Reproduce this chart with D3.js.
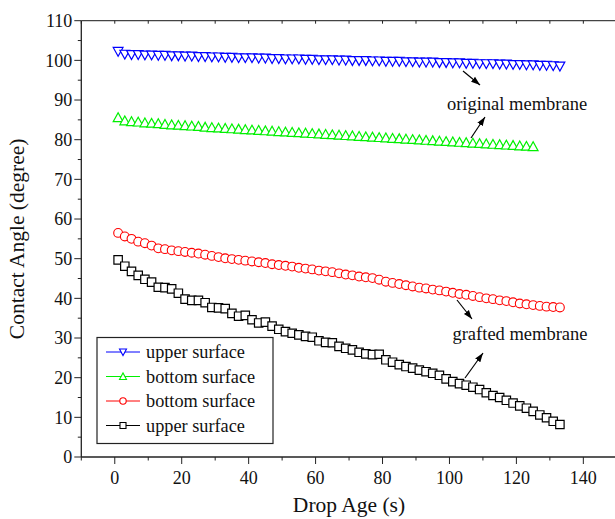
<!DOCTYPE html>
<html><head><meta charset="utf-8">
<script src="https://cdn.jsdelivr.net/npm/d3@7"></script>
<style>body{margin:0;background:#fff}svg{display:block}text{font-family:"Liberation Serif","Times New Roman",serif}</style>
</head><body>
<script>
// ---- data ----
const timeBlue = d3.range(1, 134, 2);
const timeGreen = d3.range(1, 126, 2);
const timeRed = d3.range(1, 134, 2);
const timeBlack = d3.range(1, 134, 2);

const blueUpperOriginal = [103.0,102.3,102.2,102.2,102.1,102.1,102.0,102.0,101.9,101.9,
101.8,101.8,101.7,101.7,101.6,101.6,101.5,101.5,101.4,101.4,
101.4,101.3,101.3,101.2,101.2,101.1,101.1,101.1,101.0,101.0,
100.9,100.9,100.9,100.8,100.8,100.7,100.7,100.7,100.6,100.6,
100.5,100.5,100.5,100.4,100.4,100.3,100.3,100.3,100.2,100.2,
100.1,100.1,100.0,100.0,99.9,99.9,99.9,99.8,99.8,99.7,
99.7,99.6,99.6,99.5,99.5,99.4,99.3];

const greenBottomOriginal = [84.8,84.0,83.8,83.7,83.5,83.4,83.3,83.1,83.0,82.9,
82.8,82.7,82.6,82.4,82.3,82.2,82.1,82.0,81.9,81.8,
81.7,81.6,81.5,81.4,81.3,81.2,81.1,81.0,80.9,80.8,
80.7,80.6,80.5,80.4,80.3,80.2,80.1,80.0,79.9,79.8,
79.7,79.6,79.5,79.4,79.3,79.2,79.1,79.0,78.9,78.8,
78.7,78.6,78.5,78.4,78.3,78.2,78.1,78.0,77.9,77.8,
77.7,77.6,77.5];

const redBottomGrafted = [56.5,55.6,55.0,54.3,53.9,53.3,52.6,52.4,52.1,51.9,
51.7,51.5,51.3,51.0,50.7,50.4,50.1,49.9,49.7,49.5,
49.3,49.1,48.9,48.6,48.4,48.2,48.0,47.7,47.5,47.3,
47.0,46.8,46.6,46.3,46.0,45.8,45.5,45.3,45.1,44.7,
44.2,43.9,43.6,43.3,43.0,42.7,42.5,42.2,42.0,41.7,
41.4,41.1,40.9,40.6,40.3,40.0,39.8,39.5,39.3,39.0,
38.7,38.5,38.3,38.1,37.9,37.8,37.7];

const blackUpperGrafted = [49.7,48.1,46.8,45.8,44.8,44.1,42.8,42.7,42.4,41.3,
39.8,39.5,39.5,38.9,37.7,37.6,37.4,36.2,35.5,35.7,
34.6,33.8,34.0,33.0,32.2,31.6,31.2,30.8,30.4,30.2,
29.3,28.9,28.8,27.9,27.4,27.0,26.4,26.0,25.8,25.9,
24.5,23.9,23.3,22.8,22.4,21.9,21.5,21.1,20.6,19.7,
19.0,18.5,18.1,17.6,17.0,16.2,15.5,15.0,14.3,13.6,
12.9,12.3,11.5,10.6,9.9,9.0,8.2];

const xTicks = [0,20,40,60,80,100,120,140];
const yTicks = [0,10,20,30,40,50,60,70,80,90,100,110];
const legendLabels = ["upper surface","bottom surface","bottom surface","upper surface"];
const annotations = ["original membrane","grafted membrane"];

// ---- layout ----
const W = 615, H = 519;
const svg = d3.select("body").append("svg").attr("width", W).attr("height", H);
const x = d3.scaleLinear().domain([-10, 150]).range([81.3, 616.8]);
const y = d3.scaleLinear().domain([0, 110]).range([457, 20.7]);

const series = [
  {t: timeBlue, v: blueUpperOriginal, color: "#0000ff", shape: "tdown"},
  {t: timeGreen, v: greenBottomOriginal, color: "#00f000", shape: "tup"},
  {t: timeRed, v: redBottomGrafted, color: "#ff0000", shape: "circle"},
  {t: timeBlack, v: blackUpperGrafted, color: "#000000", shape: "square"}
];

function markerPath(shape, s) {
  if (shape === "tdown") { const h = s*0.9; return `M${-s/2},${-1}L${s/2},${-1}L0,${h-1}Z`; }
  if (shape === "tup") { const h = s*0.9; return `M${-s/2},${1}L${s/2},${1}L0,${-h+1}Z`; }
  if (shape === "square") return `M${-s/2},${-s/2}h${s}v${s}h${-s}Z`;
  return null;
}

const FS_TICK = 18, FS_TITLE = 21.5, FS_LEG = 18.3, FS_ANN = 18.5;

// axes
const axisColor = "#222";
const gx = svg.append("g").attr("transform", `translate(0,${y(0)})`);
gx.append("line").attr("x1", x(-10)).attr("x2", W).attr("stroke", axisColor).attr("stroke-width", 1.3);
d3.range(-10, 151, 10).forEach(v => {
  const major = xTicks.includes(v);
  gx.append("line").attr("x1", x(v)).attr("x2", x(v)).attr("y1", 0).attr("y2", major ? 7 : 3.5)
    .attr("stroke", axisColor).attr("stroke-width", 1);
});
xTicks.forEach(v => gx.append("text").attr("x", x(v)).attr("y", 27).attr("text-anchor", "middle")
  .attr("font-size", FS_TICK).attr("fill", "#111").text(v));

const gy = svg.append("g").attr("transform", `translate(${x(-10)},0)`);
gy.append("line").attr("y1", y(0)).attr("y2", y(110)).attr("stroke", axisColor).attr("stroke-width", 1.3);
d3.range(0, 111, 5).forEach(v => {
  const major = yTicks.includes(v);
  gy.append("line").attr("x1", major ? -7 : -3.5).attr("x2", 0).attr("y1", y(v)).attr("y2", y(v))
    .attr("stroke", axisColor).attr("stroke-width", 1);
});
yTicks.forEach(v => gy.append("text").attr("x", -9).attr("y", y(v)).attr("dy", "0.35em").attr("text-anchor", "end")
  .attr("font-size", FS_TICK).attr("fill", "#111").text(v));

// top border
const gt = svg.append("g").attr("transform", `translate(0,${y(110)})`);
gt.append("line").attr("x1", x(-10)).attr("x2", W).attr("stroke", "#444").attr("stroke-width", 1.3);
d3.range(-10, 151, 10).forEach(v => gt.append("line").attr("x1", x(v)).attr("x2", x(v)).attr("y1", 0).attr("y2", 3)
  .attr("stroke", axisColor).attr("stroke-width", 1));

// axis titles
svg.append("text").attr("x", 349).attr("y", 512).attr("text-anchor", "middle").attr("font-size", FS_TITLE).attr("fill", "#111").text("Drop Age (s)");
svg.append("text").attr("transform", `translate(24,${y(55)}) rotate(-90)`).attr("text-anchor", "middle").attr("font-size", FS_TITLE).attr("fill", "#111").text("Contact Angle (degree)");

// series
series.forEach(s => {
  const pts = s.t.map((t, i) => [t, s.v[i]]);
  svg.append("path").datum(pts).attr("fill", "none").attr("stroke", s.color).attr("stroke-width", 1)
    .attr("d", d3.line().x(d => x(d[0])).y(d => y(d[1])));
  const g = svg.append("g");
  pts.forEach(d => {
    if (s.shape === "circle") {
      g.append("circle").attr("cx", x(d[0])).attr("cy", y(d[1])).attr("r", 4.4)
        .attr("fill", "#fff").attr("stroke", s.color).attr("stroke-width", 1.1);
    } else {
      g.append("path").attr("transform", `translate(${x(d[0])},${y(d[1])})`)
        .attr("d", markerPath(s.shape, s.shape === "square" ? 8.4 : 9.8))
        .attr("fill", "#fff").attr("stroke", s.color).attr("stroke-width", 1.2);
    }
  });
});

// legend
const lg = svg.append("g");
lg.append("rect").attr("x", 97).attr("y", 337.5).attr("width", 176).attr("height", 106)
  .attr("fill", "#fff").attr("stroke", "#222").attr("stroke-width", 1.2);
series.forEach((s, i) => {
  const cy = 352 + i * 24.5;
  lg.append("line").attr("x1", 106).attr("x2", 140).attr("y1", cy).attr("y2", cy).attr("stroke", s.color).attr("stroke-width", 1);
  if (s.shape === "circle") {
    lg.append("circle").attr("cx", 123).attr("cy", cy).attr("r", 3.2).attr("fill", "#fff").attr("stroke", s.color).attr("stroke-width", 1.1);
  } else {
    const p = s.shape === "tdown" ? "M-3.5,-3L3.5,-3L0,3.5Z" : s.shape === "tup" ? "M-3.5,3L3.5,3L0,-3.5Z" : "M-3,-3h6v6h-6Z";
    lg.append("path").attr("transform", `translate(123,${cy})`).attr("d", p).attr("fill", "#fff").attr("stroke", s.color).attr("stroke-width", 1.1);
  }
  lg.append("text").attr("x", 146).attr("y", cy).attr("dy", "0.33em").attr("font-size", FS_LEG).attr("fill", "#111").text(legendLabels[i]);
});

// annotations
const defs = svg.append("defs");
defs.append("marker").attr("id", "ah").attr("viewBox", "0 0 10 10").attr("refX", 10).attr("refY", 5)
  .attr("markerWidth", 9).attr("markerHeight", 9).attr("markerUnits", "userSpaceOnUse").attr("orient", "auto")
  .append("path").attr("d", "M0,1.5L10,5L0,8.5Z").attr("fill", "#000");
function arrow(x1, y1, x2, y2) {
  svg.append("line").attr("x1", x1).attr("y1", y1).attr("x2", x2).attr("y2", y2)
    .attr("stroke", "#000").attr("stroke-width", 1.2).attr("marker-end", "url(#ah)");
}
svg.append("text").attr("x", 517).attr("y", 110).attr("text-anchor", "middle").attr("font-size", FS_ANN).attr("fill", "#111").text(annotations[0]);
arrow(463, 71, 480, 85);
arrow(471, 138, 485, 117);
svg.append("text").attr("x", 520).attr("y", 340).attr("text-anchor", "middle").attr("font-size", FS_ANN).attr("fill", "#111").text(annotations[1]);
arrow(457, 300, 472, 319);
arrow(465, 378, 483, 353);
</script>
</body></html>
